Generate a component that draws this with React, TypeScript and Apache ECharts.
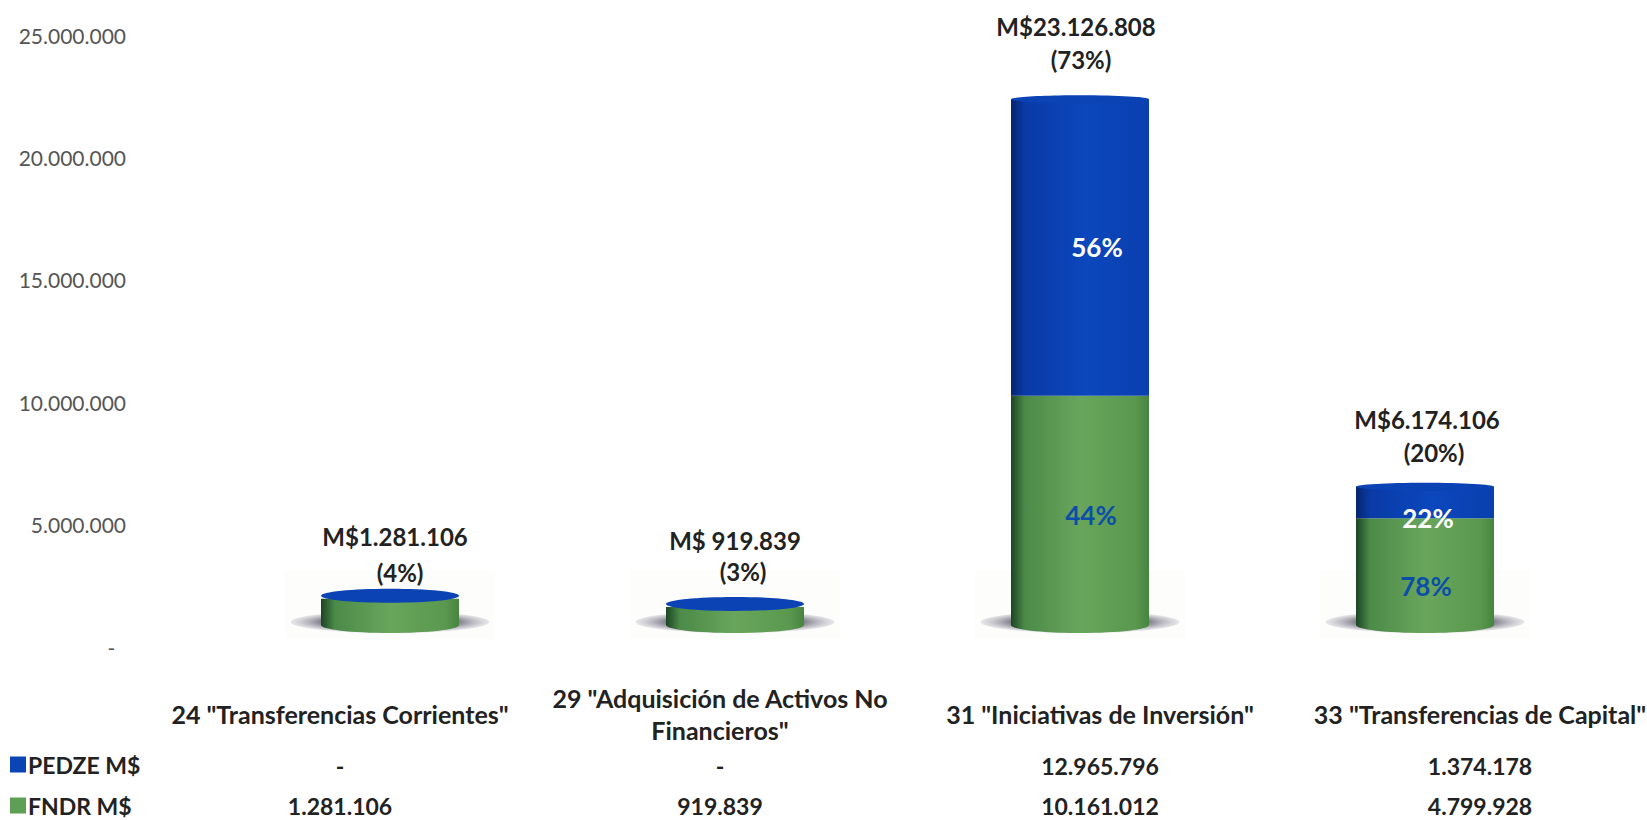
import React, { useEffect, useRef } from "react";
import * as echarts from "echarts";

const categories = [
  '24 "Transferencias Corrientes"',
  '29 "Adquisición de Activos No\nFinancieros"',
  '31 "Iniciativas de Inversión"',
  '33 "Transferencias de Capital"',
];
const pedze = [0, 0, 12965796, 1374178];
const fndr = [1281106, 919839, 10161012, 4799928];
const pedzeText = ["-", "-", "12.965.796", "1.374.178"];
const fndrText = ["1.281.106", "919.839", "10.161.012", "4.799.928"];
const totalText = ["M$1.281.106", "M$ 919.839", "M$23.126.808", "M$6.174.106"];
const totalPct = ["(4%)", "(3%)", "(73%)", "(20%)"];
const pedzePct = ["", "", "56%", "22%"];
const fndrPct = ["", "", "44%", "78%"];

const FONT = "Lato";
const BLUE_TXT = "#0b4ea8";

const greenSide = new echarts.graphic.LinearGradient(0, 0, 1, 0, [
  { offset: 0, color: "#1c4424" },
  { offset: 0.1, color: "#4b8a48" },
  { offset: 0.5, color: "#69a65c" },
  { offset: 0.9, color: "#5a984f" },
  { offset: 1, color: "#47843f" },
]);
const blueSide = new echarts.graphic.LinearGradient(0, 0, 1, 0, [
  { offset: 0, color: "#06246e" },
  { offset: 0.1, color: "#0a3aa6" },
  { offset: 0.55, color: "#0b47bd" },
  { offset: 1, color: "#0a3fae" },
]);
const shadowFill = new echarts.graphic.RadialGradient(0.5, 0.5, 0.5, [
  { offset: 0, color: "#55535f" },
  { offset: 0.7, color: "#85838f" },
  { offset: 1, color: "rgba(190,188,198,0.35)" },
]);

const fmtTick = (v: number) => {
  if (v === 0) return "-\u00A0\u00A0";
  return String(v).replace(/\B(?=(\d{3})+$)/g, ".");
};

// label nudges relative to the bar's own anchor, in px
const totalDx = [5, 0, -4, 2];
const pctDx = [10, 8, 1, 9];
const pctDy = [-26, -35, -40, -34];
const lineGap = [36, 31, 33, 33];
const pedzeNudge = [[0, 0], [0, 0], [17, -1], [3, 15]];
const fndrNudge = [[0, 0], [0, 0], [11, 3], [1, 13]];

function renderFndr(_: any, api: any) {
  const i = api.value(0);
  const v = api.value(1);
  const [cx, yAxis] = api.coord([i, 0]);
  const yBase = yAxis - 3;
  const [, yTop] = api.coord([i, v]);
  const w = api.size([1, 0])[0] * 0.4;
  const children: any[] = [
    {
      type: "rect",
      shape: { x: cx - w * 0.76, y: yAxis - 57, width: w * 1.52, height: 68 },
      style: { fill: "#fdfdfc" },
    },
    {
      type: "ellipse",
      shape: { cx, cy: yBase - 3, rx: w * 0.72, ry: 11 },
      style: { fill: shadowFill },
    },
    { type: "ellipse", shape: { cx, cy: yBase, rx: w / 2, ry: 8 }, style: { fill: greenSide } },
    { type: "rect", shape: { x: cx - w / 2, y: yTop, width: w, height: yBase - yTop }, style: { fill: greenSide } },
  ];
  if (fndrPct[i]) {
    children.push({
      type: "text",
      x: cx + fndrNudge[i][0],
      y: (yAxis + yTop) / 2 + fndrNudge[i][1],
      style: { text: fndrPct[i], font: `bold 26px ${FONT}`, fill: BLUE_TXT, align: "center", verticalAlign: "middle" },
    });
  }
  return { type: "group", children };
}

function renderPedze(_: any, api: any) {
  const i = api.value(0);
  const base = api.value(1);
  const v = api.value(2);
  const cx = api.coord([i, 0])[0];
  const [, yBottom] = api.coord([i, base]);
  const [, yTop] = api.coord([i, base + v]);
  const w = api.size([1, 0])[0] * 0.4;
  const tall = v > 0;
  const children: any[] = [];
  if (tall) {
    children.push({ type: "rect", shape: { x: cx - w / 2, y: yTop, width: w, height: yBottom - yTop }, style: { fill: blueSide } });
  }
  children.push({
    type: "ellipse",
    shape: { cx, cy: tall ? yTop : yTop - 3, rx: w / 2, ry: tall ? 4 : 7 },
    style: { fill: "#0b42b4" },
  });
  if (pedzePct[i]) {
    children.push({
      type: "text",
      x: cx + pedzeNudge[i][0],
      y: (yBottom + yTop) / 2 + pedzeNudge[i][1],
      style: { text: pedzePct[i], font: `bold 26px ${FONT}`, fill: "#ffffff", align: "center", verticalAlign: "middle" },
    });
  }
  children.push(
    {
      type: "text",
      x: cx + totalDx[i],
      y: yTop + pctDy[i] - lineGap[i],
      style: { text: totalText[i], font: `bold 24px ${FONT}`, fill: "#222222", align: "center", verticalAlign: "middle" },
    },
    {
      type: "text",
      x: cx + pctDx[i],
      y: yTop + pctDy[i],
      style: { text: totalPct[i], font: `bold 24px ${FONT}`, fill: "#222222", align: "center", verticalAlign: "middle" },
    }
  );
  return { type: "group", children };
}

function renderTable(_: any, api: any) {
  const i = api.value(0);
  const cx = api.coord([i, 0])[0];
  const row = (text: string, y: number) => ({
    type: "text",
    x: cx,
    y,
    style: { text, font: `bold 23px ${FONT}`, fill: "#222222", align: "center", verticalAlign: "middle" },
  });
  return { type: "group", children: [row(pedzeText[i], 766), row(fndrText[i], 806)] };
}

const legendBase = {
  orient: "vertical",
  left: 10,
  padding: 0,
  itemWidth: 16,
  itemHeight: 16,
  selectedMode: false,
  icon: "rect",
  textStyle: { fontFamily: FONT, fontWeight: "bold", fontSize: 23, color: "#222222", padding: [0, 0, 0, -3] },
};

export default function App() {
  const ref = useRef<HTMLDivElement>(null);
  useEffect(() => {
    const chart = echarts.init(ref.current!, null, { renderer: "svg" });
    chart.setOption({
      animation: false,
      backgroundColor: "#ffffff",
      grid: [
        { left: 150, top: 35, width: 1520, height: 612, outerBoundsMode: "none" },
        { left: 217.5, top: 56.5, width: 1380, height: 571.5, outerBoundsMode: "none" },
      ],
      xAxis: [
        {
          type: "category",
          gridIndex: 0,
          data: categories,
          axisLine: { show: false },
          axisTick: { show: false },
          axisLabel: {
            interval: 0,
            margin: 67,
            verticalAlign: "middle",
            align: "center",
            fontFamily: FONT,
            fontWeight: "bold",
            fontSize: 25,
            color: "#222222",
            lineHeight: 32,
          },
        },
        { type: "category", gridIndex: 1, data: categories, show: false },
      ],
      yAxis: [
        {
          type: "value",
          gridIndex: 0,
          min: 0,
          max: 25000000,
          interval: 5000000,
          splitLine: { show: false },
          axisLine: { show: false },
          axisTick: { show: false },
          axisLabel: {
            margin: 24,
            fontFamily: FONT,
            fontSize: 21,
            color: "#555555",
            formatter: fmtTick,
          },
        },
        { type: "value", gridIndex: 1, min: 0, max: 25000000, show: false },
      ],
      legend: [
        { ...legendBase, top: 753, data: ["PEDZE M$"] },
        { ...legendBase, top: 794, data: ["FNDR M$"] },
      ],
      series: [
        {
          name: "FNDR M$",
          type: "custom",
          xAxisIndex: 1,
          yAxisIndex: 1,
          clip: false,
          itemStyle: { color: "#5f9e55" },
          renderItem: renderFndr,
          encode: { x: 0, y: 1 },
          data: fndr.map((v, i) => [i, v]),
        },
        {
          name: "PEDZE M$",
          type: "custom",
          xAxisIndex: 1,
          yAxisIndex: 1,
          clip: false,
          itemStyle: { color: "#0b45b5" },
          renderItem: renderPedze,
          encode: { x: 0, y: 2 },
          data: pedze.map((v, i) => [i, fndr[i], v]),
        },
        {
          name: "table",
          type: "custom",
          xAxisIndex: 0,
          yAxisIndex: 0,
          clip: false,
          silent: true,
          renderItem: renderTable,
          data: categories.map((_, i) => [i, 0]),
        },
      ],
    });
    return () => chart.dispose();
  }, []);
  return <div ref={ref} style={{ position: "absolute", left: 0, top: 0, width: 1647, height: 820 }} />;
}
